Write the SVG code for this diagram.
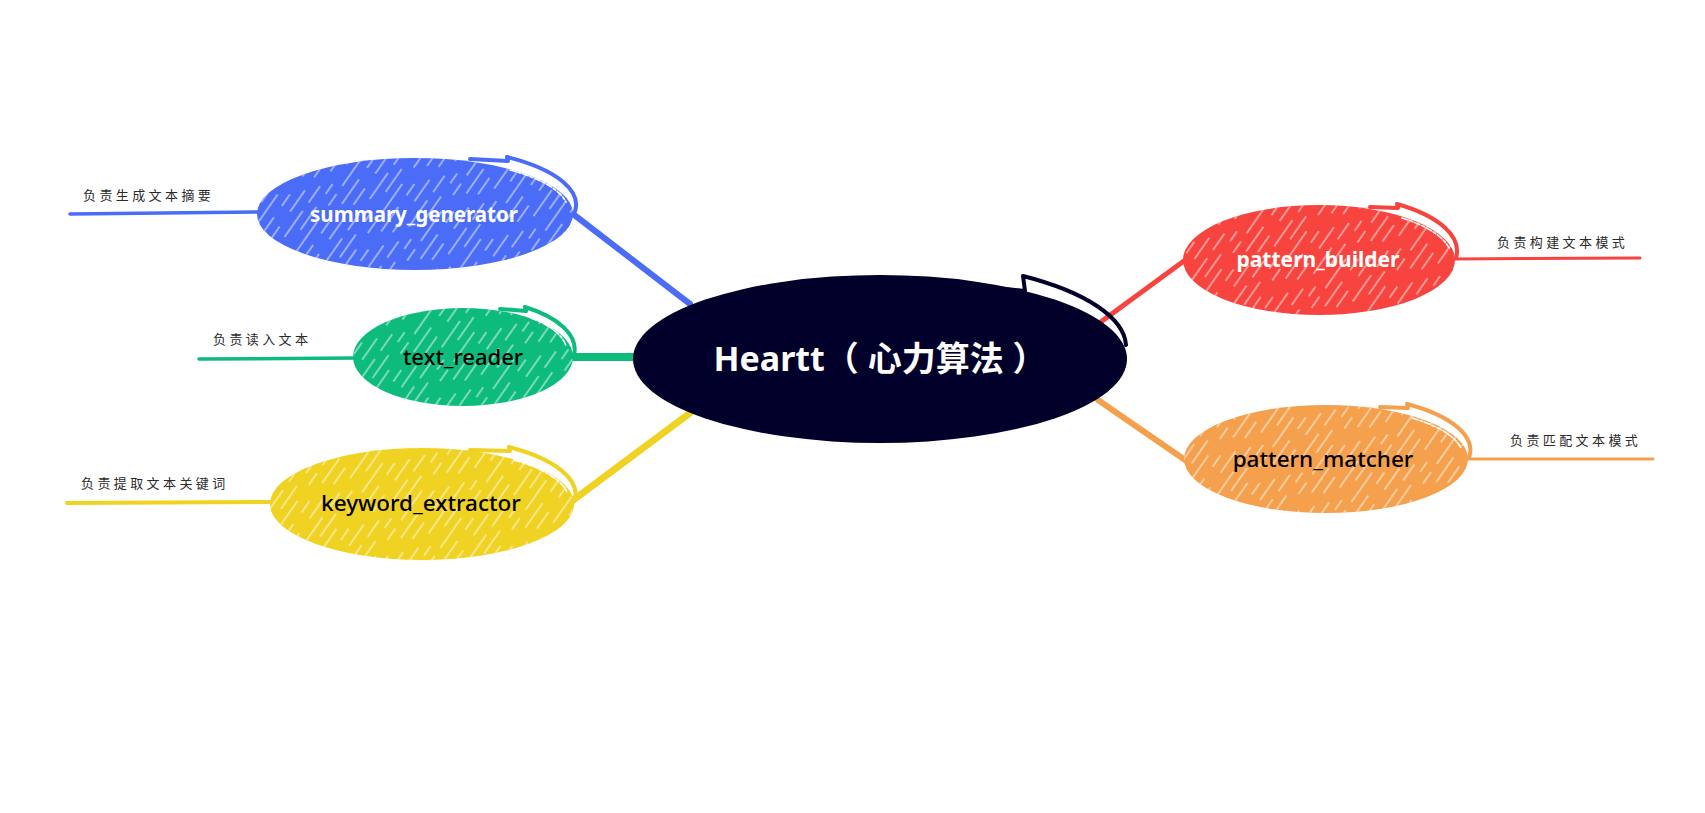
<svg xmlns="http://www.w3.org/2000/svg" width="1705" height="813" viewBox="0 0 1705 813">
<style>
.node-text{font-family:"Noto Sans","Noto Sans CJK SC",sans-serif;text-anchor:middle}
.center-text{font-family:"Noto Sans","Noto Sans CJK SC",sans-serif;font-size:34px;font-weight:bold;fill:#ffffff;text-anchor:middle}
.leaf{font-family:"Noto Sans CJK SC","Noto Sans",sans-serif;font-size:13px;letter-spacing:3.4px;fill:#2a2a2a}
.conn{fill:none;stroke-linecap:round}
.tail{fill:none;stroke-width:4;stroke-linecap:round;stroke-linejoin:round}
.inner{fill:none;stroke:#ffffff;stroke-width:1.6;stroke-dasharray:6 2 3 2;stroke-linecap:round}
.hatch{fill:url(#hatch)}
</style>
<defs>
<pattern id="hatch" patternUnits="userSpaceOnUse" width="48" height="80" patternTransform="rotate(35)">
<g stroke="#ffffff" stroke-width="1.2" stroke-opacity="0.75">
<line x1="3" y1="0" x2="3" y2="80" stroke-dasharray="36 10 14 20"/>
<line x1="13" y1="0" x2="13" y2="80" stroke-dasharray="14 14 30 22" stroke-dashoffset="7"/>
<line x1="23" y1="0" x2="23" y2="80" stroke-dasharray="26 18 20 16" stroke-dashoffset="19"/>
<line x1="33" y1="0" x2="33" y2="80" stroke-dasharray="20 10 32 18" stroke-dashoffset="31"/>
<line x1="42" y1="0" x2="42" y2="80" stroke-dasharray="28 24 12 16" stroke-dashoffset="12"/>
</g>
</pattern>
</defs>
<rect width="1705" height="813" fill="#ffffff"/>
<g id="connectors">
<path class="conn" d="M573 214 L690 304" stroke="#4a6cf7" stroke-width="6"/>
<path class="conn" d="M570 357 L640 357" stroke="#0dbb7c" stroke-width="8"/>
<path class="conn" d="M572 501 L690 413" stroke="#f0d223" stroke-width="7"/>
<path class="conn" d="M1098 324 L1188 258" stroke="#f7443e" stroke-width="5"/>
<path class="conn" d="M1098 400 L1188 462" stroke="#f5a04d" stroke-width="6"/>
<path class="conn" d="M70 214 L258 212" stroke="#4a6cf7" stroke-width="3.5"/>
<path class="conn" d="M199 359 L355 358" stroke="#0dbb7c" stroke-width="3.5"/>
<path class="conn" d="M67 503 L272 502" stroke="#f0d223" stroke-width="4"/>
<path class="conn" d="M1454 259 L1640 258" stroke="#f7443e" stroke-width="3"/>
<path class="conn" d="M1467 459 L1653 459" stroke="#f5a04d" stroke-width="3"/>
</g>
<g id="node-center">
<ellipse cx="880" cy="359" rx="247" ry="84" fill="#00002a"/>
<path class="tail" d="M975 286 L1025 291 L1023 276 A250 88 0 0 1 1126 345" stroke="#00002a" stroke-width="5"/>
<text class="center-text" x="880" y="371">Heartt（ 心力算法 ）</text>
</g>
<g id="node-summary_generator">
<ellipse cx="415" cy="214" rx="158" ry="56" fill="#4a6cf7"/>
<ellipse cx="415" cy="214" rx="158" ry="56" class="hatch"/>
<path class="inner" d="M510 170 A154 52 0 0 1 566 202"/>
<path class="tail" d="M470 159 L508 161 L507 157 A160 58 0 0 1 574 214" stroke="#4a6cf7"/>
<text class="node-text" x="414" y="222" fill="#ffffff" style="font-weight:bold;font-size:20.5px">summary_generator</text>
<text class="leaf" x="83" y="200">负责生成文本摘要</text>
</g>
<g id="node-text_reader">
<ellipse cx="463" cy="357" rx="110" ry="49" fill="#0dbb7c"/>
<ellipse cx="463" cy="357" rx="110" ry="49" class="hatch"/>
<path class="inner" d="M531 318 A106 45 0 0 1 566 346"/>
<path class="tail" d="M500 309 L526 311 L525 307 A112 51 0 0 1 574 355" stroke="#0dbb7c"/>
<text class="node-text" x="463" y="365" fill="#000000" style="font-weight:500;font-size:22px">text_reader</text>
<text class="leaf" x="213" y="344">负责读入文本</text>
</g>
<g id="node-keyword_extractor">
<ellipse cx="422" cy="504" rx="152" ry="56" fill="#f0d223"/>
<ellipse cx="422" cy="504" rx="152" ry="56" class="hatch"/>
<path class="inner" d="M514 460 A148 52 0 0 1 567 492"/>
<path class="tail" d="M470 450 L510 451 L509 447 A154 58 0 0 1 575 500" stroke="#f0d223"/>
<text class="node-text" x="421" y="511" fill="#000000" style="font-weight:500;font-size:22.5px">keyword_extractor</text>
<text class="leaf" x="81" y="488">负责提取文本关键词</text>
</g>
<g id="node-pattern_builder">
<ellipse cx="1319" cy="260" rx="136" ry="55" fill="#f7443e"/>
<ellipse cx="1319" cy="260" rx="136" ry="55" class="hatch"/>
<path class="inner" d="M1402 218 A132 51 0 0 1 1449 248"/>
<path class="tail" d="M1370 207 L1398 208 L1397 204 A138 57 0 0 1 1456 258" stroke="#f7443e"/>
<text class="node-text" x="1318" y="267" fill="#ffffff" style="font-weight:bold;font-size:21px">pattern_builder</text>
<text class="leaf" x="1497" y="247">负责构建文本模式</text>
</g>
<g id="node-pattern_matcher">
<ellipse cx="1326" cy="459" rx="142" ry="54" fill="#f5a04d"/>
<ellipse cx="1326" cy="459" rx="142" ry="54" class="hatch"/>
<path class="inner" d="M1412 418 A138 50 0 0 1 1461 448"/>
<path class="tail" d="M1380 407 L1408 408 L1407 404 A144 56 0 0 1 1469 458" stroke="#f5a04d"/>
<text class="node-text" x="1323" y="467" fill="#000000" style="font-weight:500;font-size:22.5px">pattern_matcher</text>
<text class="leaf" x="1510" y="445">负责匹配文本模式</text>
</g>
</svg>
